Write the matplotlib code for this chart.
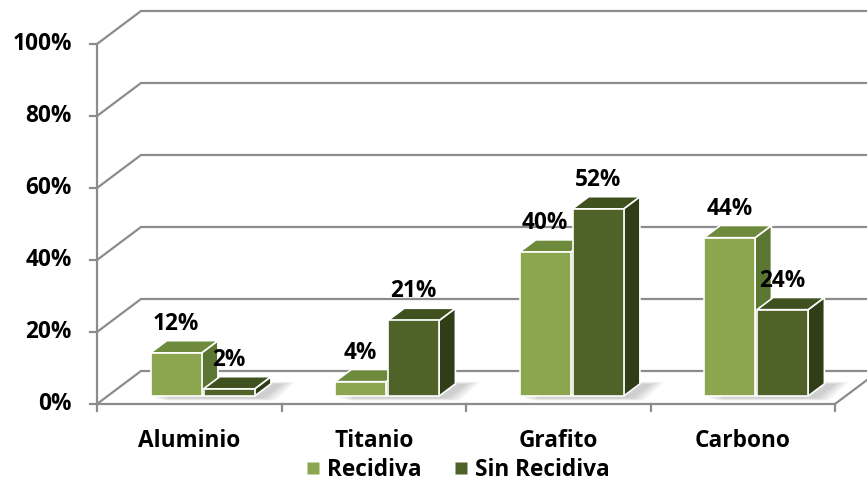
import matplotlib
matplotlib.use("Agg")
import matplotlib.pyplot as plt
from matplotlib.patches import Polygon
from matplotlib.lines import Line2D

# ---- data -------------------------------------------------------------
categories = ["Aluminio", "Titanio", "Grafito", "Carbono"]
recidiva = [12, 4, 40, 44]
sin_recidiva = [2, 21, 52, 24]
series_names = ["Recidiva", "Sin Recidiva"]
y_ticks = [0, 20, 40, 60, 80, 100]
y_tick_labels = ["0%", "20%", "40%", "60%", "80%", "100%"]

# ---- styling ----------------------------------------------------------
FONT = "Open Sans"
FS = 16.3
faces_light = {"front": "#8ba64f", "top": "#6e8a3d", "side": "#5b7533"}
faces_dark = {"front": "#4f6228", "top": "#3f511f", "side": "#303e18"}
GRID = "#8c8c8c"

W, H, DPI = 867, 486, 100
fig = plt.figure(figsize=(W / DPI, H / DPI), dpi=DPI)
ax = fig.add_axes([0, 0, 1, 1])
ax.set_axis_off()

# data units: x in categories, y in percent
PX_X = 184.5   # pixels per category
PX_Y = 3.6     # pixels per percent
X0, Y0 = 97, 82  # pixel position of the origin (left, from bottom)
ax.set_xlim(-X0 / PX_X, (W - X0) / PX_X)
ax.set_ylim(-Y0 / PX_Y, (H - Y0) / PX_Y)

# oblique depth of the chart box
DX, DY = 44 / PX_X, 33 / PX_Y
# bars sit partway into the depth
F0, FD = 0.24, 0.37
bx, by = F0 * DX, F0 * DY
ddx, ddy = FD * DX, FD * DY

n = len(categories)
xmax = (W - X0) / PX_X + 0.2

# back wall gridlines with their slanted side-wall segment
for t in y_ticks:
    ax.plot([0, DX, xmax], [t, t + DY, t + DY], color=GRID, lw=1.6,
            solid_capstyle="butt", zorder=1)

# floor front edge and right edge
ax.plot([0, n], [0, 0], color=GRID, lw=1.6, zorder=1)
ax.plot([n, n + DX], [0, DY], color=GRID, lw=1.6, zorder=1)
# vertical value axis
ax.plot([0, 0], [0, 100], color=GRID, lw=1.6, zorder=1)
tick_len_x = 7 / PX_X
tick_len_y = 7 / PX_Y
for t, lab in zip(y_ticks, y_tick_labels):
    ax.plot([-tick_len_x, 0], [t, t], color=GRID, lw=1.6, zorder=1)
    ax.text(-25 / PX_X, t, lab, ha="right", va="center", fontsize=FS,
            fontweight="bold", family=FONT, color="#000000")
for i in range(n + 1):
    ax.plot([i, i], [0, -tick_len_y], color=GRID, lw=1.6, zorder=1)
for i, c in enumerate(categories):
    ax.text(i + 0.5, -37 / PX_Y, c, ha="center", va="center", fontsize=FS,
            fontweight="bold", family=FONT, color="#000000")

BAR_W = 0.277
BAR_GAP = 0.01
START = 0.233


def shadow(x0, x1):
    """Soft floor shadow behind a pair of bars."""
    for k in range(8):
        e = k * 0.01
        ex = 0.015 + e
        poly = [(x0 + bx + ex, by - 0.6 - e * 10),
                (x1 + bx + ex + 0.03, by - 0.6 - e * 10),
                (x1 + bx + ddx + ex + 0.05, by + ddy + e * 8),
                (x0 + bx + ddx + ex, by + ddy + e * 8)]
        ax.add_patch(Polygon(poly, closed=True, facecolor="#000000",
                             alpha=0.025, edgecolor="none", zorder=2))


def bar3d(x0, width, value, faces):
    x1 = x0 + width
    xa, xb = x0 + bx, x1 + bx
    yb, yt = by, by + value
    kw = dict(closed=True, edgecolor="white", lw=1.2, zorder=3,
              joinstyle="miter")
    side = [(xb, yb), (xb + ddx, yb + ddy), (xb + ddx, yt + ddy), (xb, yt)]
    top = [(xa, yt), (xb, yt), (xb + ddx, yt + ddy), (xa + ddx, yt + ddy)]
    front = [(xa, yb), (xb, yb), (xb, yt), (xa, yt)]
    ax.add_patch(Polygon(side, facecolor=faces["side"], **kw))
    ax.add_patch(Polygon(top, facecolor=faces["top"], **kw))
    ax.add_patch(Polygon(front, facecolor=faces["front"], **kw))
    ax.text((xa + xb) / 2, yt + 29 / PX_Y, f"{value}%", ha="center",
            va="center", fontsize=FS, fontweight="bold", family=FONT,
            color="#000000", zorder=5)


for i in range(n):
    xr = i + START
    xs = xr + BAR_W + BAR_GAP
    shadow(xr, xs + BAR_W)
for i in range(n):
    xr = i + START
    xs = xr + BAR_W + BAR_GAP
    bar3d(xr, BAR_W, recidiva[i], faces_light)
    bar3d(xs, BAR_W, sin_recidiva[i], faces_dark)

handles = [Line2D([], [], marker="s", linestyle="none", markersize=9,
                  markerfacecolor=faces_light["front"], markeredgecolor="none"),
           Line2D([], [], marker="s", linestyle="none", markersize=9,
                  markerfacecolor=faces_dark["front"], markeredgecolor="none")]
fig.legend(handles, series_names, loc="center", bbox_to_anchor=(0.5265, 0.033),
           ncol=2, frameon=False, handletextpad=0.15, columnspacing=1.3,
           handlelength=0.9,
           prop={"family": FONT, "weight": "bold", "size": FS})

fig.savefig("out.png", dpi=DPI)
